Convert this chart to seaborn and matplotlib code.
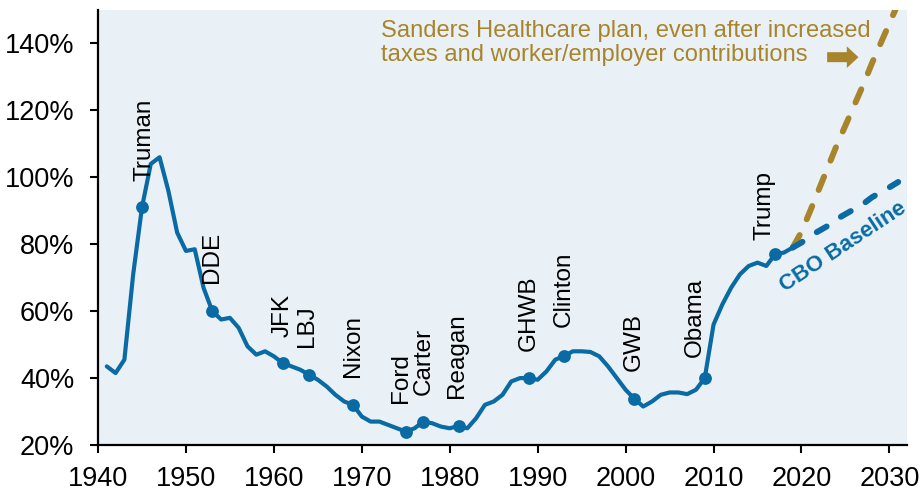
import matplotlib
matplotlib.use("Agg")
import matplotlib.pyplot as plt
import seaborn as sns
import pandas as pd

# ---- data ----
years = list(range(1941, 2020))
debt = [43.5, 41.5, 45.5, 71, 91, 104, 106, 96, 83.5, 78,
        78.5, 67, 60, 57.5, 58, 55, 49.5, 47, 48, 46.5,
        44.5, 43.5, 42.5, 41, 39.5, 37.5, 35, 33, 32, 28.5,
        27, 27, 26, 25, 24, 25, 27, 26.5, 25.5, 25,
        25.7, 25, 28, 32, 33, 35, 39, 40, 40, 39.5,
        42, 45.5, 46.6, 48, 48, 47.8, 46.5, 43.5, 40, 36.5,
        33.8, 31.5, 33, 35, 35.7, 35.7, 35.2, 36.5, 40, 56,
        62, 67, 71, 73.5, 74.5, 73.5, 77, 77.5, 79]

cbo_years = list(range(2019, 2032))
cbo = [79, 80.5, 82.5, 84, 85.5, 87.5, 89, 90.5, 92, 94, 95.5, 97, 98.6]

sanders_years = list(range(2019, 2032))
sanders = [79, 83.7, 90, 96.5, 103, 109.5, 115.5, 121.5, 127.5, 134, 140, 146, 152]

presidents = ["Truman", "DDE", "JFK", "LBJ", "Nixon", "Ford", "Carter", "Reagan",
              "GHWB", "Clinton", "GWB", "Obama", "Trump"]
pres_years = [1945, 1953, 1961, 1964, 1969, 1975, 1977, 1981, 1989, 1993, 2001, 2009, 2017]
label_x = [1945.3, 1953.0, 1961.05, 1963.8, 1969.0, 1974.5, 1977.05, 1980.8,
           1989.0, 1993.0, 2000.9, 2007.9, 2015.8]
label_y = [99, 68.5, 52.4, 49.4, 40.4, 32.5, 35, 34, 48.2, 55.4, 42, 46.4, 81.4]

y_ticks = [20, 40, 60, 80, 100, 120, 140]
x_ticks = [1940, 1950, 1960, 1970, 1980, 1990, 2000, 2010, 2020, 2030]

annotation = "Sanders Healthcare plan, even after increased\ntaxes and worker/employer contributions"

# ---- style ----
BLUE = "#0A6BA4"
GOLD = "#A8842A"
BG = "#EAF1F6"

sns.set_theme(style="white")
plt.rcParams["font.family"] = ["Liberation Sans", "DejaVu Sans"]

fig = plt.figure(figsize=(9.19, 4.91), dpi=100)
ax = fig.add_axes([98 / 919, 1 - 445 / 491, (907 - 98) / 919, (445 - 10) / 491])
ax.set_facecolor(BG)

df = pd.DataFrame({"year": years, "debt": debt})
df_cbo = pd.DataFrame({"year": cbo_years, "debt": cbo})
df_san = pd.DataFrame({"year": sanders_years, "debt": sanders})
lookup = dict(zip(years, debt))
df_pres = pd.DataFrame({"year": pres_years, "debt": [lookup[y] for y in pres_years]})

lw_d = 4.3
sns.lineplot(data=df_san, x="year", y="debt", ax=ax, color=GOLD, lw=lw_d)
ax.lines[-1].set_dashes([2.4, 2.9])
ax.lines[-1].set_dash_capstyle("round")
sns.lineplot(data=df_cbo, x="year", y="debt", ax=ax, color=BLUE, lw=lw_d)
ax.lines[-1].set_dashes([1.9, 2.9])
ax.lines[-1].set_dash_capstyle("round")
sns.lineplot(data=df, x="year", y="debt", ax=ax, color=BLUE, lw=3.0,
             solid_joinstyle="round", solid_capstyle="round")
sns.scatterplot(data=df_pres, x="year", y="debt", ax=ax, color=BLUE, s=85,
                edgecolor=BLUE, linewidth=0, zorder=5)

for name, lx, ly in zip(presidents, label_x, label_y):
    ax.text(lx, ly, name, rotation=90, ha="center", va="bottom",
            fontsize=17.5, color="black")

ax.text(1972.2, 140.2, annotation, ha="left", va="center", fontsize=17.1,
        color=GOLD, linespacing=1.15)
ax.annotate("", xy=(2026.8, 135.9), xytext=(2022.6, 135.9),
            arrowprops=dict(arrowstyle="simple,head_length=0.7,head_width=1.3,tail_width=0.6",
                            mutation_scale=12, color=GOLD, lw=0))

ax.text(2024.7, 79.3, "CBO Baseline", rotation=33.5, ha="center", va="center",
        fontsize=16, fontweight="bold", color=BLUE, rotation_mode="anchor")

ax.set_xlim(1940, 2032)
ax.set_ylim(20, 150)
ax.set_xticks(x_ticks)
ax.set_xticklabels([str(x) for x in x_ticks])
ax.set_yticks(y_ticks)
ax.set_yticklabels([f"{v}%" for v in y_ticks])
ax.set_xlabel("")
ax.set_ylabel("")
ax.tick_params(axis="both", direction="out", length=6, width=1.5, color="black",
               labelsize=19.5, labelcolor="black", left=True, bottom=True)
ax.tick_params(axis="y", pad=11)
ax.tick_params(axis="x", pad=9)
for side in ["top", "right"]:
    ax.spines[side].set_visible(False)
for side in ["left", "bottom"]:
    ax.spines[side].set_color("black")
    ax.spines[side].set_linewidth(1.6)
if ax.get_legend():
    ax.get_legend().remove()

fig.savefig("out.png", dpi=100, facecolor="white")
